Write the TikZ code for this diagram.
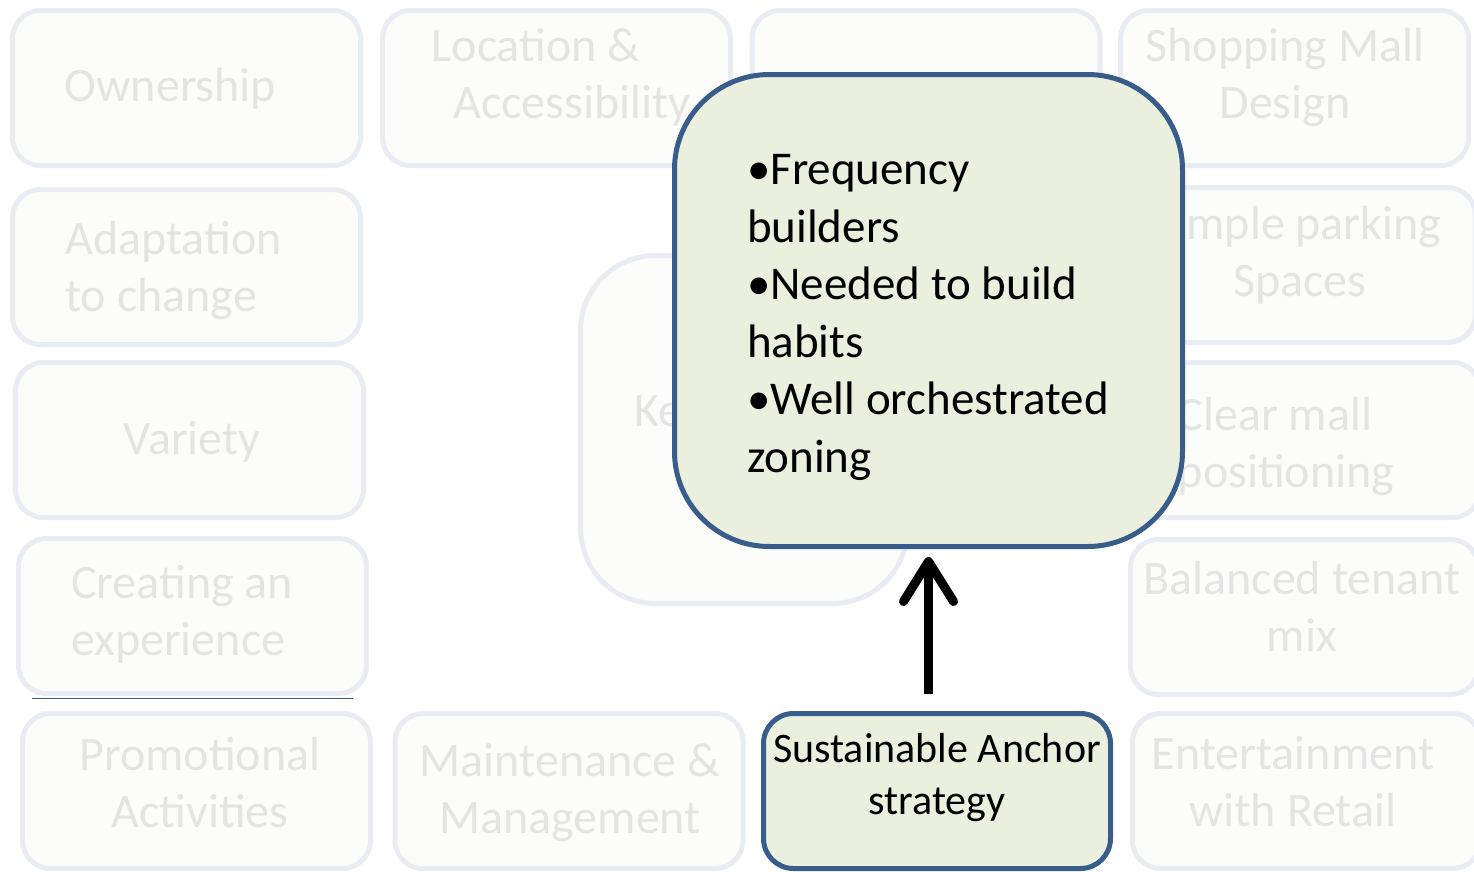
\documentclass[tikz,border=0pt]{standalone}
\usepackage{fontspec}
\setmainfont{Carlito}
\usetikzlibrary{arrows.meta}
\definecolor{faintline}{RGB}{233,237,243}
\definecolor{faintfill}{RGB}{252,252,250}
\definecolor{fainttext}{RGB}{228,228,228}
\definecolor{anchorfill}{RGB}{235,239,222}
\definecolor{anchorline}{RGB}{56,93,138}
\tikzset{
	faint/.style={draw=faintline, fill=faintfill, line width=5pt, rounded corners=28pt, minimum width=348pt, minimum height=155pt},
	fainttxt/.style={text=fainttext, font=\fontsize{48}{57}\selectfont, inner sep=0pt},
	anchorbox/.style={draw=anchorline, fill=anchorfill, line width=5pt},
}
\begin{document}
\begin{tikzpicture}[x=1pt,y=-1pt]
	\clip (0,0) rectangle (1474,871);
	\fill[white] (0,0) rectangle (1474,871);
	% faded boxes around the anchor
	\node[faint] (blank) at (926,88) {};
	\foreach \n/\bx/\by/\tx/\ty/\a/\t in {
		own/186.5/88/170.5/89/left/Ownership,
		loc/556.5/88/561/77/left/{Location \&\\\hspace*{22pt}Accessibility},
		shop/1294.5/88/1285/77/center/{Shopping Mall\\Design},
		adapt/186.5/267/173.5/270/left/{Adaptation\\to change},
		park/1301.5/265/1300/255/center/{Ample parking\\Spaces},
		var/189.5/440/192/442/center/Variety,
		clear/1306.5/440/1286/446/left/{Clear mall\\positioning},
		creat/192.5/616/182/614/left/{Creating an\\experience},
		bal/1304.5/617/1302/606/center/{Balanced tenant\\mix},
		promo/196.5/791/200/782/center/{Promotional\\Activities},
		maint/569/791/570/793/center/{Maintenance \&\\Management},
		ent/1306.5/791/1293/782/center/{Entertainment\\with Retail}}
	{
		\node[faint] (\n) at (\bx,\by) {};
		\node[fainttxt, align=\a] (\n-t) at (\tx,\ty) {\t};
	}
	\draw[anchorline, line width=1.5pt] ([xshift=16pt,yshift=-2.5pt]creat.south west) -- ([xshift=-16pt,yshift=-2.5pt]creat.south east);
	\node[faint, rounded corners=75pt, minimum width=327pt, minimum height=348pt] (key) at (744,429.5) {};
	\node[fainttxt, anchor=west] (key-t) at (634,415) {Key};
	% the anchor and what it gives
	\node[anchorbox, rounded corners=95pt, minimum width=508pt, minimum height=472pt] (freq) at (928.5,310.5) {};
	\node[font=\fontsize{47}{57.5}\selectfont, align=left, inner sep=0pt] (freq-t) at (928,317.5) {•Frequency\\builders\\•Needed to build\\habits\\•Well orchestrated\\zoning};
	\node[anchorbox, rounded corners=30pt, minimum width=347pt, minimum height=155pt] (sust) at (937,791) {};
	\node[font=\fontsize{42}{52}\selectfont, align=center, inner sep=0pt] (sust-t) at (937,777.5) {Sustainable Anchor\\strategy};
	\draw[line width=9pt, shorten <=17pt, shorten >=8pt, -{Straight Barb[length=40pt, width=50pt, round]}] (sust.north -| freq.south) -- (freq.south);
\end{tikzpicture}
\end{document}
